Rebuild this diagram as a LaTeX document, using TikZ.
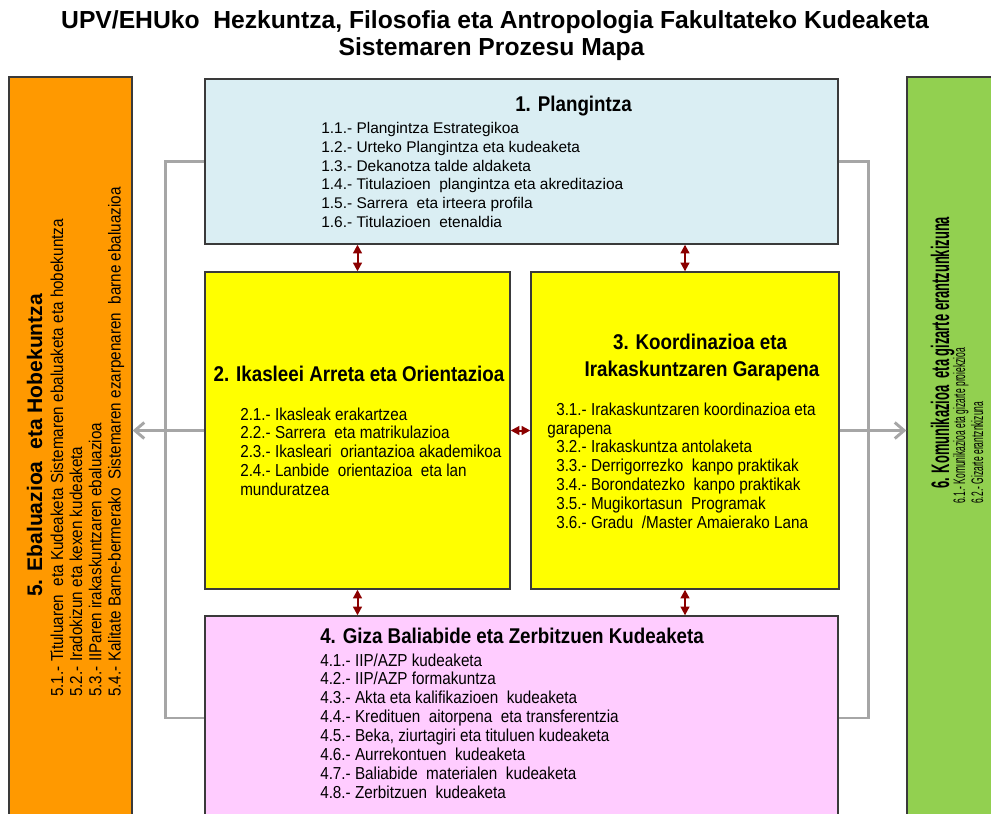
\documentclass[tikz,border=0pt]{standalone}
\usepackage{fontspec}
\setmainfont{Liberation Sans}
\newfontfamily\narrowfont[FakeStretch=0.88]{Liberation Sans}
\newfontfamily\condfont[FakeStretch=0.51]{Liberation Sans}
\usepackage{xcolor}
\usetikzlibrary{arrows.meta,positioning,fit,calc}
\definecolor{planblue}{HTML}{DAEEF3}
\definecolor{boxyellow}{HTML}{FFFF00}
\definecolor{gizapink}{HTML}{FFCCFF}
\definecolor{ebalorange}{HTML}{FF9900}
\definecolor{komungreen}{HTML}{92D050}
\definecolor{linkgray}{HTML}{A6A6A6}
\definecolor{linkred}{HTML}{8B0000}
\definecolor{boxline}{HTML}{3A3A3A}

\begin{document}
\begin{tikzpicture}[x=0.75pt,y=0.75pt,
  box/.style={draw=boxline,line width=1pt,inner sep=0pt},
  boxtitle/.style={anchor=base,inner sep=0pt,font=\narrowfont\bfseries\fontsize{16}{19}\selectfont},
  blueitem/.style={anchor=base west,inner sep=0pt,font=\fontsize{11.6}{14}\selectfont},
  item/.style={anchor=base west,inner sep=0pt,font=\narrowfont\fontsize{13}{14}\selectfont},
  greenitem/.style={rotate=90,anchor=base west,inner sep=0pt,font=\condfont\fontsize{12.5}{14}\selectfont},
  grayline/.style={draw=linkgray,line width=2.2pt},
  grayarrow/.style={grayline,-{Straight Barb[length=7pt,width=12pt]}},
  redarrow/.style={draw=linkred,line width=1.5pt,{Triangle[length=6.5pt,width=6.5pt]}-{Triangle[length=6.5pt,width=6.5pt]}}]
  \clip (0,0) rectangle (991,-813);

  \node[anchor=base,inner sep=0pt,font=\bfseries\fontsize{18.5}{20}\selectfont] (title1) at (495,-29) {UPV/EHUko\ \ Hezkuntza, Filosofia eta Antropologia Fakultateko Kudeaketa};
  \node[anchor=base,inner sep=0pt,font=\bfseries\fontsize{18.5}{20}\selectfont] (title2) at (491.5,-56) {Sistemaren Prozesu Mapa};

  \node[box,fill=ebalorange,fit={(9,-77) (132,-820)}] (ebal) {};
  \node[box,fill=komungreen,fit={(907,-77) (1000,-820)}] (komun) {};
  \node[box,fill=planblue,fit={(205,-79) (838,-244)}] (plan) {};
  \node[box,fill=boxyellow,fit={(205,-272) (510,-589)}] (arreta) {};
  \node[box,fill=boxyellow,fit={(531,-272) (839,-589)}] (koord) {};
  \node[box,fill=gizapink,fit={(205,-616) (838,-820)}] (giza) {};

  \draw[grayline] (plan.west) -- ++(-39,0) |- (giza.west);
  \draw[grayline] (plan.east) -- ++(30,0) |- (giza.east);
  \draw[grayarrow] (arreta.west) -- (arreta.west -| ebal.east);
  \draw[grayarrow] (koord.east) -- (koord.east -| komun.west);

  \draw[redarrow] (arreta.north) -- (arreta.north |- plan.south);
  \draw[redarrow] (koord.north) -- (koord.north |- plan.south);
  \draw[redarrow] (arreta.south) -- (arreta.south |- giza.north);
  \draw[redarrow] (koord.south) -- (koord.south |- giza.north);
  \draw[redarrow] (arreta.east) -- (koord.west);

  \node[boxtitle] (plantitle) at (573.5,-112) {1. Plangintza};
  \foreach \t [count=\i from 0] in {1.1.- Plangintza Estrategikoa, 1.2.- Urteko Plangintza eta kudeaketa, 1.3.- Dekanotza talde aldaketa, 1.4.- Titulazioen\ \ plangintza eta akreditazioa, 1.5.- Sarrera\ \ eta irteera profila, 1.6.- Titulazioen\ \ etenaldia} {
    \node[blueitem] (p\i) at (321,{-134-18.6*\i}) {\t};
  }

  \node[boxtitle] (arretatitle) at (359,-381) {2. Ikasleei Arreta eta Orientazioa};
  \foreach \t [count=\i from 0] in {2.1.- Ikasleak erakartzea, 2.2.- Sarrera\ \ eta matrikulazioa, 2.3.- Ikasleari\ \ oriantazioa akademikoa, 2.4.- Lanbide\ \ orientazioa\ \ eta lan, munduratzea} {
    \node[item] (a\i) at (240,{-420-18.8*\i}) {\t};
  }

  \node[boxtitle] (koordtitle) at (700,-349) {3. Koordinazioa eta};
  \node[boxtitle] (koordtitleb) at (702,-376) {Irakaskuntzaren Garapena};
  \node[item] (k0) at (556,-415) {3.1.- Irakaskuntzaren koordinazioa eta};
  \node[item] (k1) at (547,-434) {garapena};
  \foreach \t [count=\i from 2] in {3.2.- Irakaskuntza antolaketa, 3.3.- Derrigorrezko\ \ kanpo praktikak, 3.4.- Borondatezko\ \ kanpo praktikak, 3.5.- Mugikortasun\ \ Programak, {3.6.- Gradu\ \ /Master Amaierako Lana}} {
    \node[item] (k\i) at (556,{-415-18.9*\i}) {\t};
  }

  \node[boxtitle,anchor=base west] (gizatitle) at (320,-643) {4. Giza Baliabide eta Zerbitzuen Kudeaketa};
  \foreach \t [count=\i from 0] in {{4.1.- IIP/AZP kudeaketa}, {4.2.- IIP/AZP formakuntza}, 4.3.- Akta eta kalifikazioen\ \ kudeaketa, 4.4.- Kredituen\ \ aitorpena\ \ eta transferentzia, {4.5.- Beka, ziurtagiri eta tituluen kudeaketa}, 4.6.- Aurrekontuen\ \ kudeaketa, 4.7.- Baliabide\ \ materialen\ \ kudeaketa, 4.8.- Zerbitzuen\ \ kudeaketa} {
    \node[item] (g\i) at (320,{-666-18.9*\i}) {\t};
  }

  \node[rotate=90,anchor=base west,inner sep=0pt,font=\bfseries\fontsize{15.8}{18}\selectfont] (ebaltitle) at (42,-597) {5. Ebaluazioa\ \ eta Hobekuntza};
  \foreach \t [count=\i from 0] in {5.1.- Tituluaren\ \ eta Kudeaketa Sistemaren ebaluaketa eta hobekuntza, 5.2.- Iradokizun eta kexen kudeaketa, 5.3.- IIParen irakaskuntzaren ebaluazioa, 5.4.- Kalitate Barne-bermerako\ \ Sistemaren ezarpenaren\ \ barne ebaluazioa} {
    \node[item,rotate=90] (e\i) at ({63+19.2*\i},-697) {\t};
  }

  \node[rotate=90,anchor=base west,inner sep=0pt,font=\condfont\bfseries\fontsize{19}{20}\selectfont] (komuntitle) at (949,-489) {6. Komunikazioa\ \ eta gizarte erantzunkizuna};
  \node[greenitem] (c0) at (965,-504) {6.1.- Komunikazioa eta gizarte proiekzioa};
  \node[greenitem] (c1) at (983,-504) {6.2.- Gizarte erantznkizuna};
\end{tikzpicture}
\end{document}
